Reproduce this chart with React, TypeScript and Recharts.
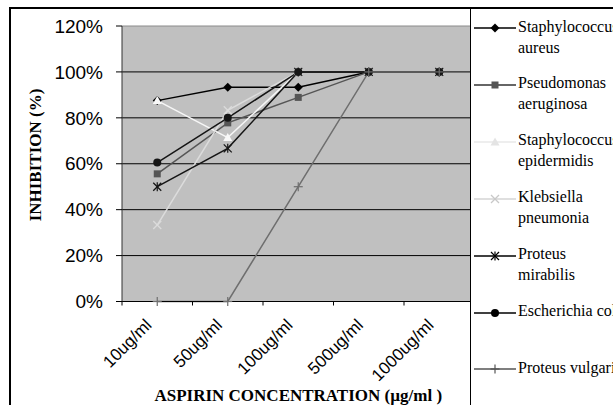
import React from 'react';
import { LineChart, Line, XAxis, YAxis, CartesianGrid, Legend } from 'recharts';

const concentrations = ['10ug/ml', '50ug/ml', '100ug/ml', '500ug/ml', '1000ug/ml'];
const staphAureus = [0.875, 0.933, 0.933, 1, 1];
const pseudomonasAeruginosa = [0.556, 0.778, 0.889, 1, 1];
const staphEpidermidis = [0.875, 0.714, 1, 1, 1];
const klebsiellaPneumonia = [0.333, 0.833, 1, 1, 1];
const proteusMirabilis = [0.5, 0.667, 1, 1, 1];
const escherichiaColi = [0.605, 0.8, 1, 1, 1];
const proteusVulgaris = [0, 0, 0.5, 1, 1];
const yTicks = [0, 0.2, 0.4, 0.6, 0.8, 1.0, 1.2];

const seriesNames = [
  'Staphylococcus aureus',
  'Pseudomonas aeruginosa',
  'Staphylococcus epidermidis',
  'Klebsiella pneumonia',
  'Proteus mirabilis',
  'Escherichia coli',
  'Proteus vulgaris',
];
const legendLines = [
  ['Staphylococcus', 'aureus'],
  ['Pseudomonas', 'aeruginosa'],
  ['Staphylococcus', 'epidermidis'],
  ['Klebsiella', 'pneumonia'],
  ['Proteus', 'mirabilis'],
  ['Escherichia coli'],
  ['Proteus vulgaris'],
];
const seriesValues = [
  staphAureus,
  pseudomonasAeruginosa,
  staphEpidermidis,
  klebsiellaPneumonia,
  proteusMirabilis,
  escherichiaColi,
  proteusVulgaris,
];

type Shape = 'diamond' | 'square' | 'triangle' | 'cross' | 'asterisk' | 'circle' | 'plus';
const styles: { stroke: string; shape: Shape; marker: string; legendStroke: string; legendMarker: string }[] = [
  { stroke: '#000000', shape: 'diamond', marker: '#000000', legendStroke: '#000000', legendMarker: '#000000' },
  { stroke: '#555555', shape: 'square', marker: '#555555', legendStroke: '#333333', legendMarker: '#555555' },
  { stroke: '#f6f6f6', shape: 'triangle', marker: '#f8f8f8', legendStroke: '#e8e8e8', legendMarker: '#e4e4e4' },
  { stroke: '#dcdcdc', shape: 'cross', marker: '#dcdcdc', legendStroke: '#d4d4d4', legendMarker: '#c8c8c8' },
  { stroke: '#151515', shape: 'asterisk', marker: '#151515', legendStroke: '#000000', legendMarker: '#000000' },
  { stroke: '#151515', shape: 'circle', marker: '#151515', legendStroke: '#000000', legendMarker: '#000000' },
  { stroke: '#6e6e6e', shape: 'plus', marker: '#6e6e6e', legendStroke: '#555555', legendMarker: '#555555' },
];

const data = concentrations.map((c, i) => {
  const row: Record<string, string | number> = { conc: c };
  seriesValues.forEach((vals, s) => {
    row['s' + s] = vals[i];
  });
  return row;
});

const CHART_W = 613;
const CHART_H = 405;
const Y_AXIS_W = 122;
const MARGIN_TOP = 26;
const MARGIN_RIGHT = 138.5;
const X_AXIS_H = 103.5;
const PLOT_W = CHART_W - Y_AXIS_W - MARGIN_RIGHT;
const HALF_BAND = PLOT_W / concentrations.length / 2;

function Marker({ shape, cx, cy, color }: { shape: Shape; cx: number; cy: number; color: string }) {
  switch (shape) {
    case 'diamond':
      return <polygon points={`${cx},${cy - 4.5} ${cx + 4.5},${cy} ${cx},${cy + 4.5} ${cx - 4.5},${cy}`} fill={color} />;
    case 'square':
      return <rect x={cx - 3.5} y={cy - 3.5} width={7} height={7} fill={color} />;
    case 'triangle':
      return <polygon points={`${cx},${cy - 4.5} ${cx + 4.5},${cy + 3.5} ${cx - 4.5},${cy + 3.5}`} fill={color} />;
    case 'cross':
      return (
        <g stroke={color} strokeWidth={1.2}>
          <line x1={cx - 4} y1={cy - 4} x2={cx + 4} y2={cy + 4} />
          <line x1={cx - 4} y1={cy + 4} x2={cx + 4} y2={cy - 4} />
        </g>
      );
    case 'asterisk':
      return (
        <g stroke={color} strokeWidth={1.2}>
          <line x1={cx - 4} y1={cy - 4} x2={cx + 4} y2={cy + 4} />
          <line x1={cx - 4} y1={cy + 4} x2={cx + 4} y2={cy - 4} />
          <line x1={cx} y1={cy - 4.5} x2={cx} y2={cy + 4.5} />
        </g>
      );
    case 'circle':
      return <circle cx={cx} cy={cy} r={4} fill={color} />;
    case 'plus':
    default:
      return (
        <g stroke={color} strokeWidth={1.2}>
          <line x1={cx - 4.5} y1={cy} x2={cx + 4.5} y2={cy} />
          <line x1={cx} y1={cy - 4.5} x2={cx} y2={cy + 4.5} />
        </g>
      );
  }
}

const XTick = (props: any) => {
  const { x, y, payload, index } = props;
  const tx = x - 4.5;
  const ty = y + 24.5;
  return (
    <g>
      <line x1={x - HALF_BAND} x2={x - HALF_BAND} y1={y} y2={y + 4} stroke="#000" />
      {index === concentrations.length - 1 && (
        <line x1={x + HALF_BAND} x2={x + HALF_BAND} y1={y} y2={y + 4} stroke="#000" />
      )}
      <text
        x={tx}
        y={ty}
        transform={`rotate(-45 ${tx} ${ty})`}
        textAnchor="end"
        fontSize={17}
        fontFamily='"Liberation Sans", Arial, sans-serif'
        fill="#000"
      >
        {payload.value}
      </text>
    </g>
  );
};

const renderLegend = () => (
  <div style={{ position: 'relative', width: 160, height: 400 }}>
    {styles.map((s, i) => {
      const cy = 19 + i * 56.9;
      return (
        <div key={seriesNames[i]} style={{ position: 'absolute', left: 0, top: cy - 10, height: 20, width: 200 }}>
          <svg width={46} height={20} style={{ position: 'absolute', left: 3, top: 0, overflow: 'visible' }}>
            <line x1={0} y1={10} x2={42} y2={10} stroke={s.legendStroke} strokeWidth={1.3} />
            <Marker shape={s.shape} cx={21} cy={10} color={s.legendMarker} />
          </svg>
          <div
            style={{
              position: 'absolute',
              left: 47,
              top: -2.5,
              fontFamily: '"Liberation Serif", "Times New Roman", serif',
              fontSize: 16,
              lineHeight: '21px',
              whiteSpace: 'pre',
              color: '#000',
            }}
          >
            {legendLines[i].join('\n')}
          </div>
        </div>
      );
    })}
  </div>
);

const gridLine = (p: any) => (
  <line
    key={p.key}
    x1={p.x1}
    y1={p.y1}
    x2={p.x2}
    y2={p.y2}
    stroke={p.y1 < MARGIN_TOP + 2 ? '#8a8a8a' : '#000'}
    strokeWidth={1}
  />
);

export default function App() {
  return (
    <div
      style={{
        position: 'absolute',
        left: 0,
        top: 0,
        width: CHART_W,
        height: CHART_H,
        overflow: 'hidden',
        background: '#fff',
      }}
    >
      <div
        style={{
          position: 'absolute',
          left: 9,
          top: 7,
          width: 700,
          height: 500,
          border: '2px solid #000',
          boxSizing: 'border-box',
        }}
      />
      <div style={{ position: 'absolute', left: 0, top: 0 }}>
        <LineChart
          width={CHART_W}
          height={CHART_H}
          data={data}
          margin={{ top: MARGIN_TOP, right: MARGIN_RIGHT, left: 0, bottom: 0 }}
        >
          <CartesianGrid vertical={false} horizontal={gridLine} fill="#c0c0c0" stroke="#000" />
          <XAxis
            dataKey="conc"
            type="category"
            height={X_AXIS_H}
            padding={{ left: HALF_BAND, right: HALF_BAND }}
            tickSize={0}
            tickMargin={0}
            tickLine={false}
            axisLine={{ stroke: '#000' }}
            tick={<XTick />}
            interval={0}
            label={{
              content: (p: any) => {
                const vb = p.viewBox || { x: Y_AXIS_W, y: 0, width: PLOT_W, height: X_AXIS_H };
                return (
                  <text
                    x={vb.x + vb.width / 2}
                    y={vb.y + 99.5}
                    textAnchor="middle"
                    fontSize={17}
                    fontWeight="bold"
                    fontFamily='"Liberation Serif", "Times New Roman", serif'
                    fill="#000"
                  >
                    ASPIRIN CONCENTRATION (µg/ml )
                  </text>
                );
              },
            }}
          />
          <YAxis
            width={Y_AXIS_W}
            domain={[0, 1.2]}
            ticks={yTicks}
            interval={0}
            tickFormatter={(v: number) => `${Math.round(v * 100)}%`}
            tickSize={6}
            tickMargin={13}
            tickLine={{ stroke: '#000' }}
            axisLine={{ stroke: '#333' }}
            tick={{ fontSize: 19, fill: '#000', fontFamily: '"Liberation Sans", Arial, sans-serif' }}
            label={{
              content: () => (
                <text
                  x={41}
                  y={155}
                  transform="rotate(-90 41 155)"
                  textAnchor="middle"
                  fontSize={17}
                  fontWeight="bold"
                  fontFamily='"Liberation Serif", "Times New Roman", serif'
                  fill="#000"
                >
                  INHIBITION (%)
                </text>
              ),
            }}
          />
          {styles.map((s, i) => (
            <Line
              key={'s' + i}
              dataKey={'s' + i}
              name={seriesNames[i]}
              type="linear"
              stroke={s.stroke}
              strokeWidth={1.5}
              isAnimationActive={false}
              activeDot={false}
              dot={(p: any) => (
                <g key={`d${i}-${p.index}`}>
                  <Marker shape={s.shape} cx={p.cx} cy={p.cy} color={s.marker} />
                </g>
              )}
            />
          ))}
          <Legend
            layout="vertical"
            align="center"
            verticalAlign="middle"
            content={renderLegend}
            wrapperStyle={{
              left: 470,
              top: 9,
              width: 160,
              height: 400,
              background: '#fff',
              borderLeft: '1px solid #000',
              boxSizing: 'border-box',
            }}
          />
        </LineChart>
      </div>
    </div>
  );
}
